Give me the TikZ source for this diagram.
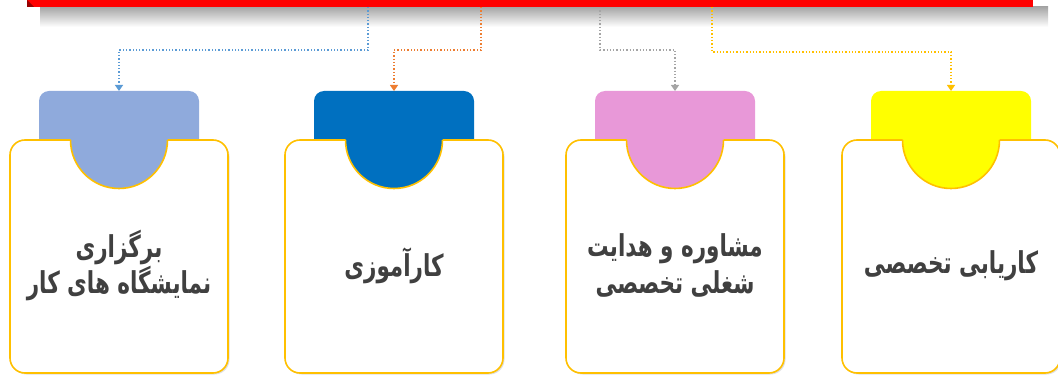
\documentclass[tikz,border=0pt]{standalone}
\usepackage{fontspec}
\newfontfamily\arabicfont[Script=Arabic]{DejaVu Sans}
\TeXXeTstate=1
\usetikzlibrary{arrows.meta,shadows}
\definecolor{tabA}{HTML}{8FAADC}
\definecolor{tabB}{HTML}{0070C0}
\definecolor{tabC}{HTML}{E898D8}
\definecolor{tabD}{HTML}{FFFF00}
\definecolor{gold}{HTML}{FFC000}
\definecolor{linkA}{HTML}{5B9BD5}
\definecolor{linkB}{HTML}{ED7D31}
\definecolor{linkC}{HTML}{A5A5A5}
\definecolor{txt}{HTML}{404040}
\begin{document}
\begin{tikzpicture}[
  x=1pt, y=1pt,
  tab/.style = {rectangle, rounded corners=10pt, minimum width=160, minimum height=60, anchor=north, inner sep=0, outer sep=0},
  card/.style = {rectangle, rounded corners=15pt, fill=white, draw=gold, line width=1.6pt, minimum width=218, minimum height=233, inner sep=0, outer sep=0,
    drop shadow={shadow xshift=1.5pt, shadow yshift=-1.5pt, opacity=.25}},
  cardtext/.style = {font=\arabicfont\bfseries\fontsize{21.5}{26}\selectfont, text=txt, align=center, yscale=1.4, transform shape},
  conn/.style = {dotted, line width=1.3pt, -{Triangle[length=6pt,width=8pt]}},
  ]
  \useasboundingbox (0,0) rectangle (1058,375);

  % top bar
  \shade[top color=black!35, bottom color=white] (40,368) rectangle (1048,348);
  \node[fill=red, minimum width=1006, minimum height=12, inner sep=0, anchor=south west] (bar) at (27,368) {};
  \fill[red!60!black] (27,375) -- (27,368) -- (34,368) -- cycle;

  \coordinate (s1) at (368,368);
  \coordinate (s2) at (481,368);
  \coordinate (s3) at (600,368);
  \coordinate (s4) at (712,368);

  % tabs
  \node[tab, fill=tabA] (tab1) at (119,284) {};
  \node[tab, fill=tabB] (tab2) at (394,284) {};
  \node[tab, fill=tabC] (tab3) at (675,284) {};
  \node[tab, fill=tabD] (tab4) at (951,284) {};

  % connectors
  \draw[conn, linkA] (s1) -- ++(0,-43) -| (tab1.north);
  \draw[conn, linkB] (s2) -- ++(0,-43) -| (tab2.north);
  \draw[conn, linkC] (s3) -- ++(0,-43) -| (tab3.north);
  \draw[conn, gold]  (s4) -- ++(0,-45) -| (tab4.north);

  % cards
  \node[card] (card1) at (119,118.5) {};
  \node[card] (card2) at (394,118.5) {};
  \node[card] (card3) at (675,118.5) {};
  \node[card] (card4) at (951,118.5) {};

  % half discs
  \fill[tabA] ([xshift=-48.5]card1.north) -- ++(0,1.5) -- ++(97,0) -- ++(0,-1.5) arc[start angle=0, end angle=-180, radius=48.5];
  \fill[tabB] ([xshift=-48.5]card2.north) -- ++(0,1.5) -- ++(97,0) -- ++(0,-1.5) arc[start angle=0, end angle=-180, radius=48.5];
  \fill[tabC] ([xshift=-48.5]card3.north) -- ++(0,1.5) -- ++(97,0) -- ++(0,-1.5) arc[start angle=0, end angle=-180, radius=48.5];
  \fill[tabD] ([xshift=-48.5]card4.north) -- ++(0,1.5) -- ++(97,0) -- ++(0,-1.5) arc[start angle=0, end angle=-180, radius=48.5];
  \draw[gold, line width=1.6pt] ([xshift=48.5]card1.north) arc[start angle=0, end angle=-180, radius=48.5];
  \draw[gold, line width=1.6pt] ([xshift=48.5]card2.north) arc[start angle=0, end angle=-180, radius=48.5];
  \draw[gold, line width=1.6pt] ([xshift=48.5]card3.north) arc[start angle=0, end angle=-180, radius=48.5];
  \draw[gold, line width=1.6pt] ([xshift=48.5]card4.north) arc[start angle=0, end angle=-180, radius=48.5];

  % texts
  \node[cardtext] (text1) at ([yshift=-9]card1.center) {\beginR برگزاری\endR\\\beginR نمایشگاه های کار\endR};
  \node[cardtext] (text2) at ([yshift=-9]card2.center) {\beginR کارآموزی\endR};
  \node[cardtext] (text3) at ([yshift=-9]card3.center) {\beginR مشاوره و هدایت\endR\\\beginR شغلی تخصصی\endR};
  \node[cardtext] (text4) at ([yshift=-9]card4.center) {\beginR کاریابی تخصصی\endR};
\end{tikzpicture}
\end{document}
